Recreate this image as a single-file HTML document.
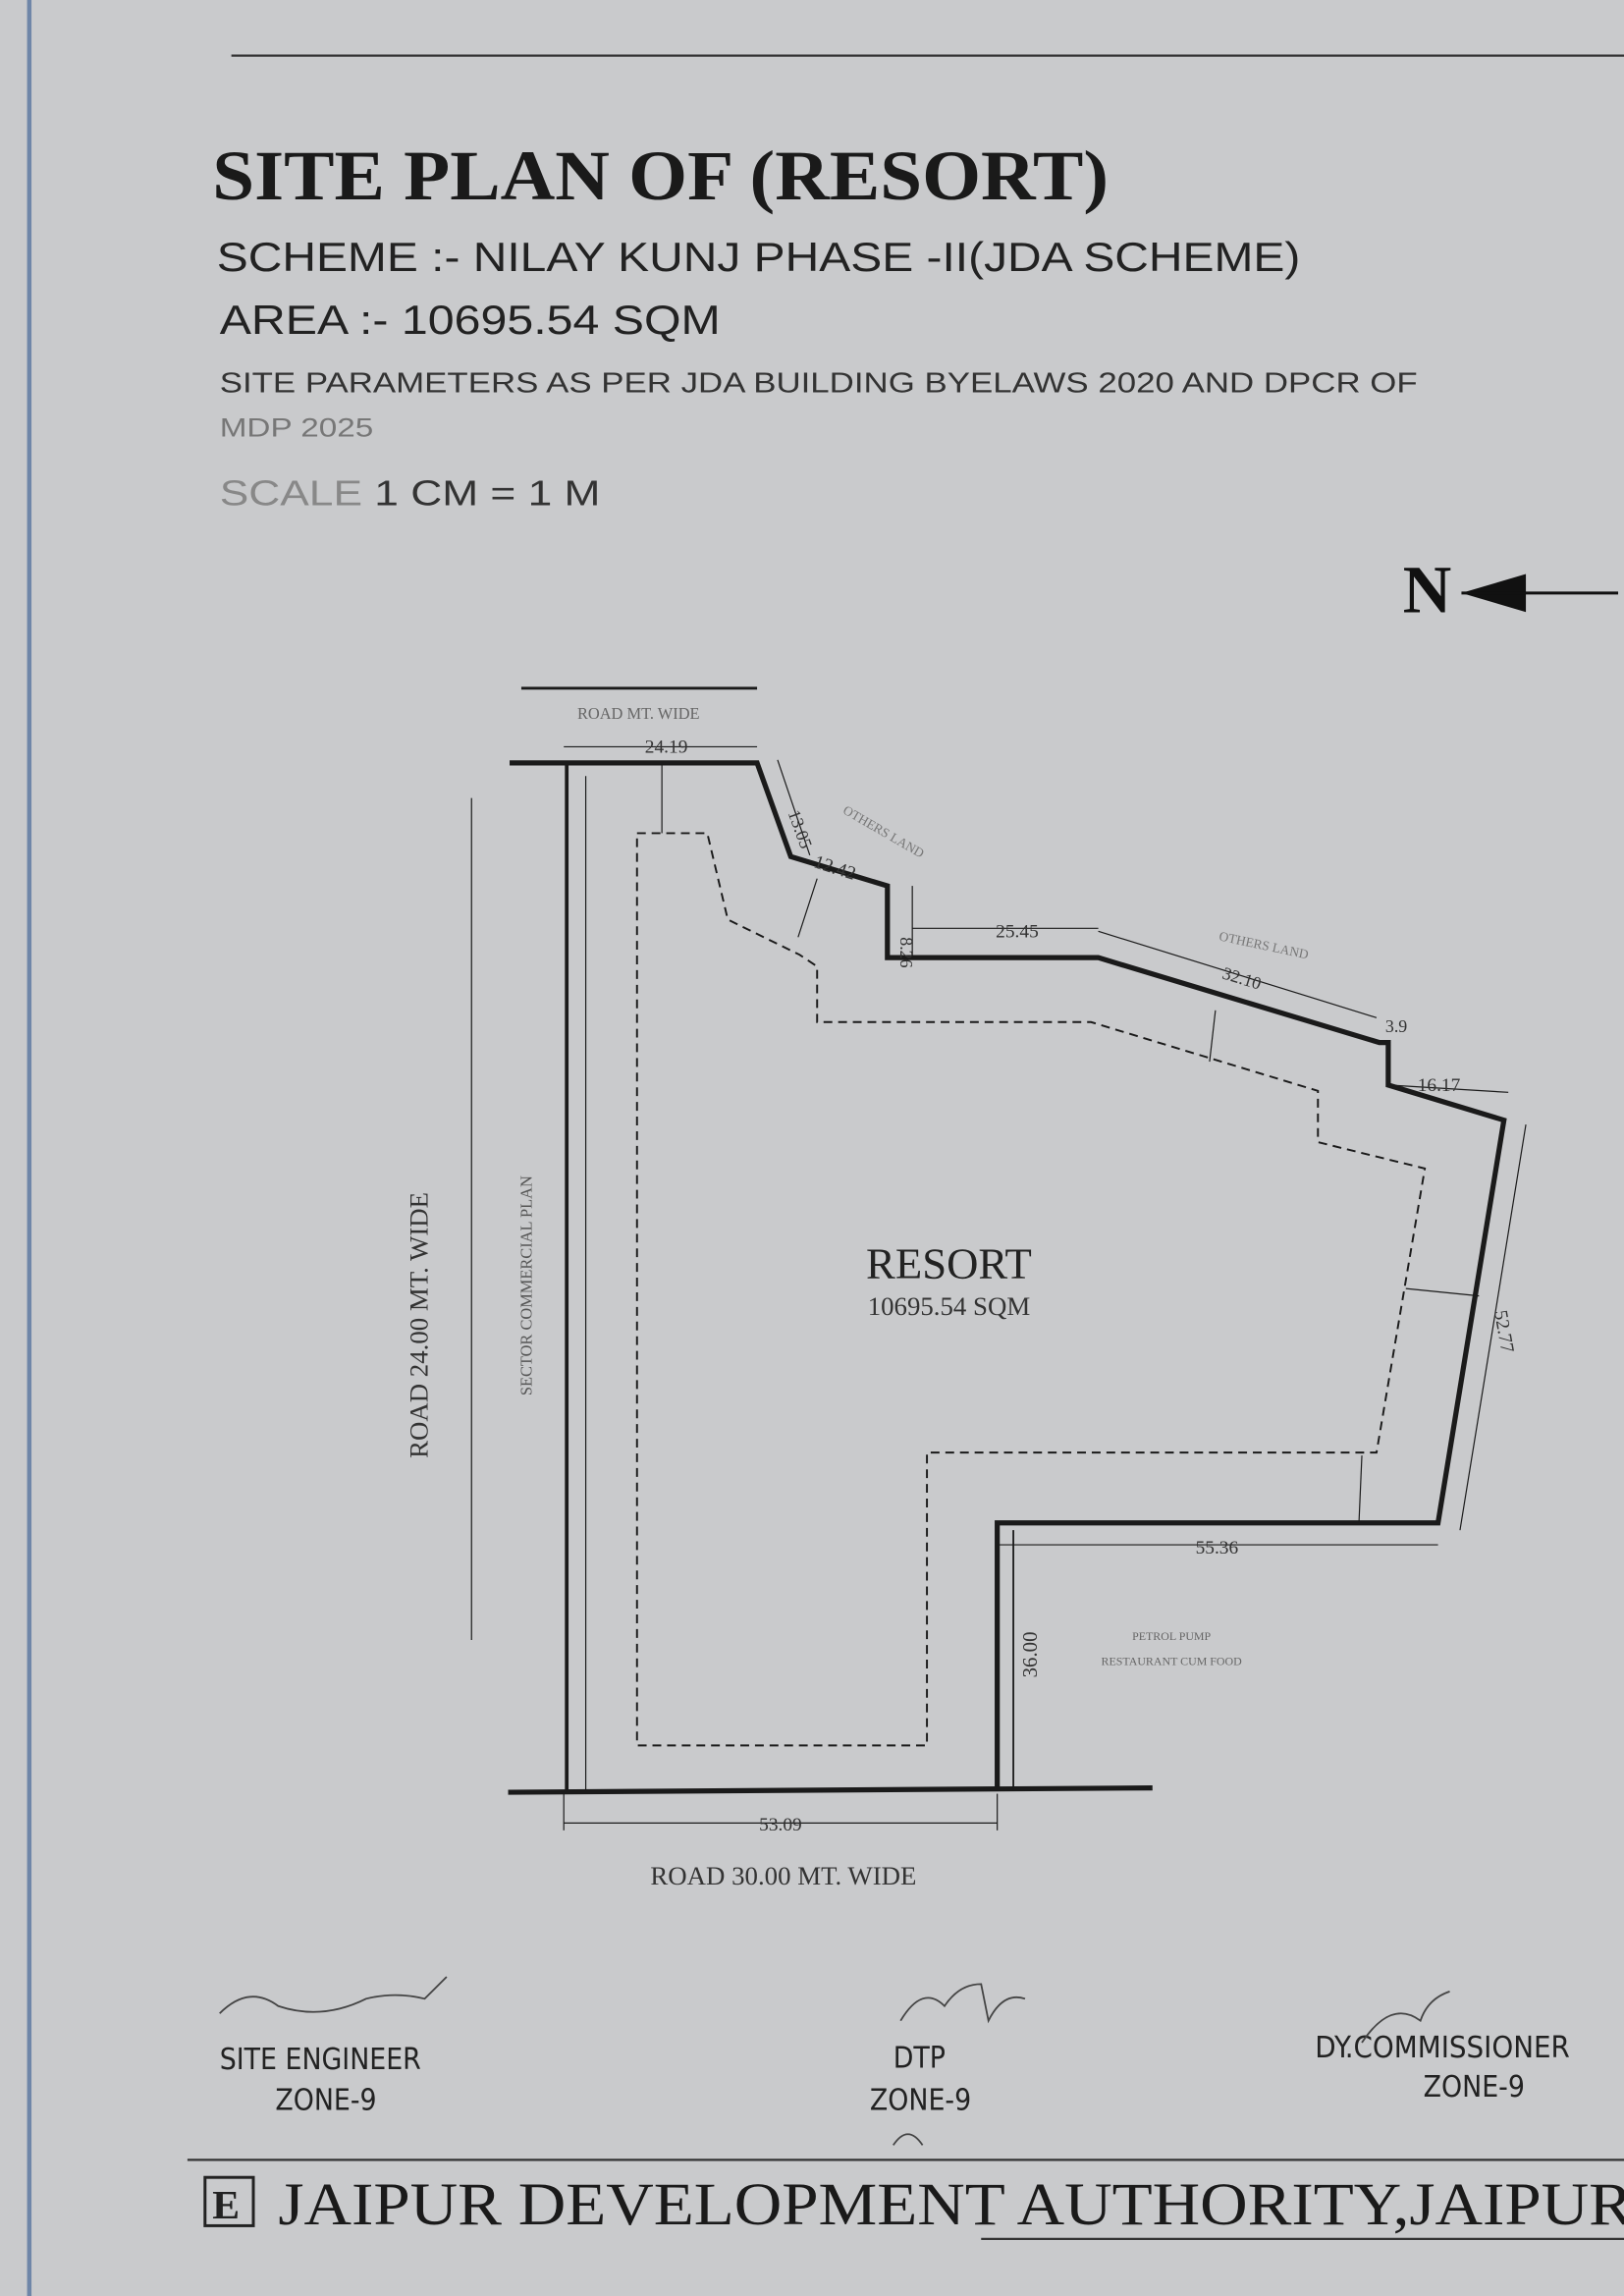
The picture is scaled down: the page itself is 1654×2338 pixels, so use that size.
<!DOCTYPE html>
<html><head><meta charset="utf-8"><style>
html,body{margin:0;padding:0;background:#c9cacc;}
svg{display:block}
</style></head><body>
<svg width="1654" height="2338" viewBox="0 0 1109 1568" preserveAspectRatio="none" xmlns="http://www.w3.org/2000/svg">
<rect width="1109" height="1568" fill="#c9cacc"/>
<line x1="20" y1="0" x2="20" y2="1568" stroke="#6f86a8" stroke-width="3"/>
<line x1="158" y1="38" x2="1109" y2="38" stroke="#333" stroke-width="1.5"/>
<g font-family="Liberation Serif, serif" fill="#1a1a1a">
<text x="145" y="136" font-size="48" font-weight="bold" textLength="612" lengthAdjust="spacingAndGlyphs">SITE PLAN OF (RESORT)</text>
</g>
<g font-family="Liberation Sans, sans-serif" fill="#222">
<text x="148" y="185" font-size="28" textLength="740" lengthAdjust="spacingAndGlyphs">SCHEME :- NILAY KUNJ PHASE -II(JDA SCHEME)</text>
<text x="150" y="228" font-size="28" textLength="342" lengthAdjust="spacingAndGlyphs">AREA :- 10695.54 SQM</text>
<text x="150" y="268" font-size="19" fill="#333" textLength="818" lengthAdjust="spacingAndGlyphs">SITE PARAMETERS AS PER JDA BUILDING BYELAWS 2020 AND DPCR OF</text>
<text x="150" y="298" font-size="18" fill="#777" textLength="105" lengthAdjust="spacingAndGlyphs">MDP 2025</text>
<text x="150" y="345" font-size="24" fill="#333" textLength="260" lengthAdjust="spacingAndGlyphs"><tspan fill="#888">SCALE</tspan>    1 CM = 1 M</text>
</g>
<text x="958" y="418" font-family="Liberation Serif, serif" font-size="46" font-weight="bold" fill="#111">N</text>
<polygon points="998,405 1042,392 1042,418" fill="#111"/>
<line x1="998" y1="405" x2="1105" y2="405" stroke="#111" stroke-width="2"/>

<g stroke="#1a1a1a" fill="none">
<line x1="356" y1="470" x2="517" y2="470" stroke-width="2"/>
<polyline points="348,521 517,521 540,585 606,605 606,654 750,654 942,712 948,712 948,741 1027,765 982,1040 681,1040 681,1223" stroke-width="3.5"/>
<line x1="387" y1="521" x2="387" y2="1223" stroke-width="2.5"/>
<line x1="347" y1="1224" x2="787" y2="1221" stroke-width="3.5"/>
<line x1="400" y1="530" x2="400" y2="1223" stroke-width="0.8"/>
<line x1="692" y1="1045" x2="692" y2="1223" stroke-width="1.2"/>
<line x1="322" y1="545" x2="322" y2="1120" stroke-width="0.8"/>
<polyline points="435,569 483,569 497,628 546,652 558,660 558,698 745,698 900,745 900,780 973,798 940,992 633,992 633,1192 435,1192 435,569" stroke-width="1.3" stroke-dasharray="6,4"/>
<g stroke-width="0.8">
<line x1="385" y1="510" x2="517" y2="510"/>
<line x1="681" y1="1055" x2="982" y2="1055"/>
<line x1="385" y1="1245" x2="681" y2="1245"/>
<line x1="385" y1="1225" x2="385" y2="1250"/><line x1="681" y1="1225" x2="681" y2="1250"/>
<line x1="1042" y1="768" x2="997" y2="1045"/>
<line x1="750" y1="636" x2="940" y2="695"/>
<line x1="623" y1="605" x2="623" y2="654"/>
<line x1="623" y1="634" x2="750" y2="634"/>
<line x1="531" y1="519" x2="553" y2="584"/>
<line x1="452" y1="521" x2="452" y2="569"/>
<line x1="558" y1="600" x2="545" y2="640"/>
<line x1="830" y1="690" x2="826" y2="725"/>
<line x1="960" y1="880" x2="1010" y2="885"/>
<line x1="930" y1="994" x2="928" y2="1040"/>
<line x1="948" y1="741" x2="1030" y2="746"/>
</g>
</g>
<g font-family="Liberation Serif, serif" fill="#333">
<text x="648" y="873" font-size="30" text-anchor="middle" fill="#222">RESORT</text>
<text x="648" y="898" font-size="18" text-anchor="middle">10695.54 SQM</text>
<text x="535" y="1287" font-size="18" text-anchor="middle">ROAD 30.00 MT. WIDE</text>
<text x="436" y="491" font-size="11" text-anchor="middle" fill="#666">ROAD    MT. WIDE</text>
<text x="455" y="514" font-size="13" text-anchor="middle">24.19</text>
<text x="680" y="640" font-size="13">25.45</text>
<text x="831" y="1061" font-size="13" text-anchor="middle">55.36</text>
<text x="533" y="1250" font-size="13" text-anchor="middle">53.09</text>
<text x="968" y="745" font-size="13">16.17</text>
<text x="946" y="705" font-size="12">3.9</text>
<text x="555" y="592" font-size="13" transform="rotate(18 555 592)">12.42</text>
<text x="800" y="1120" font-size="8" text-anchor="middle" fill="#666">PETROL PUMP</text>
<text x="800" y="1137" font-size="8" text-anchor="middle" fill="#666">RESTAURANT CUM FOOD</text>
<text x="292" y="905" font-size="18" text-anchor="middle" transform="rotate(-90 292 905)">ROAD 24.00 MT. WIDE</text>
<text x="363" y="878" font-size="11" text-anchor="middle" transform="rotate(-90 363 878)" fill="#555">SECTOR COMMERCIAL PLAN</text>
<text x="708" y="1130" font-size="14" text-anchor="middle" transform="rotate(-90 708 1130)">36.00</text>
<text x="1023" y="910" font-size="13" text-anchor="middle" transform="rotate(80 1023 910)">52.77</text>
<text x="538" y="555" font-size="12" transform="rotate(70 538 555)">13.05</text>
<text x="615" y="640" font-size="12" transform="rotate(90 615 640)">8.26</text>
<text x="575" y="555" font-size="9" fill="#777" transform="rotate(30 575 555)">OTHERS LAND</text>
<text x="832" y="642" font-size="9" fill="#777" transform="rotate(12 832 642)">OTHERS LAND</text>
<text x="834" y="668" font-size="12" transform="rotate(17 834 668)">32.10</text>
</g>
<g font-family="DejaVu Sans Condensed, Liberation Sans Narrow, sans-serif" fill="#222" font-size="20">
<text x="150" y="1413">SITE ENGINEER</text>
<text x="188" y="1441">ZONE-9</text>
<text x="610" y="1412">DTP</text>
<text x="594" y="1441">ZONE-9</text>
<text x="898" y="1405" textLength="174" lengthAdjust="spacingAndGlyphs">DY.COMMISSIONER</text>
<text x="972" y="1432">ZONE-9</text>
</g>
<g stroke="#444" fill="none" stroke-width="1.2">
<path d="M150,1375 q20,-20 40,-5 q30,10 60,-5 q20,-5 40,0 l15,-15"/>
<path d="M615,1380 q15,-25 30,-10 q10,-15 25,-15 l5,25 q10,-20 25,-15"/>
<path d="M610,1465 q10,-15 20,0"/>
<path d="M930,1395 q20,-30 40,-15 q5,-15 20,-20"/>
</g>
<line x1="128" y1="1475" x2="1109" y2="1475" stroke="#333" stroke-width="1.5"/>
<line x1="670" y1="1529" x2="1109" y2="1529" stroke="#333" stroke-width="1.5"/>
<rect x="140" y="1487" width="33" height="33" fill="none" stroke="#222" stroke-width="2"/>
<text x="145" y="1515" font-family="Liberation Serif, serif" font-size="28" font-weight="bold" fill="#222">E</text>
<text x="190" y="1519" font-family="Liberation Serif, serif" font-size="41" fill="#1a1a1a" textLength="925" lengthAdjust="spacingAndGlyphs">JAIPUR DEVELOPMENT AUTHORITY,JAIPUR</text>
</svg>
</body></html>
